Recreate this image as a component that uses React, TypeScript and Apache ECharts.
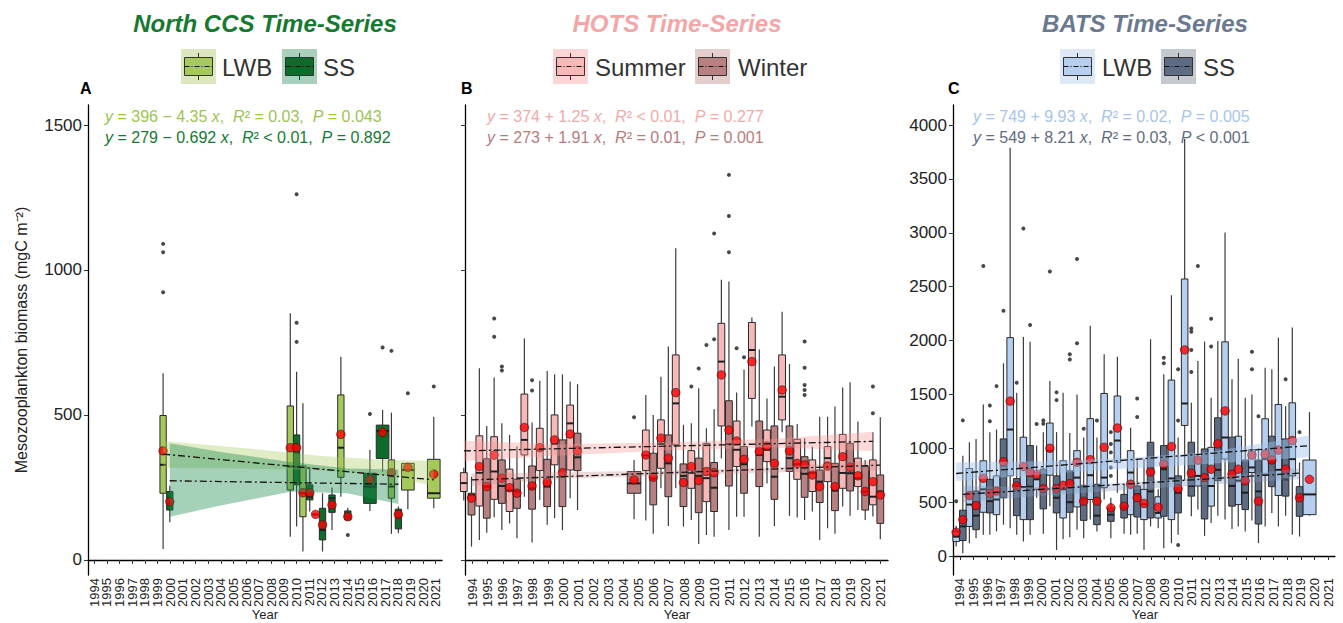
import React, { useEffect, useRef } from 'react';
import * as echarts from 'echarts';

// ---------------- DATA ----------------
const YEARS = ['1994','1995','1996','1997','1998','1999','2000','2001','2002','2003','2004','2005','2006','2007','2008','2009','2010','2011','2012','2013','2014','2015','2016','2017','2018','2019','2020','2021'];

// Panel A — North CCS. Box = [min, Q1, median, Q3, max]
const ccsLwbX = [1999.44, 2009.5, 2010.5, 2011.5, 2013.5, 2017.5, 2018.8, 2020.85];
const ccsLwbBox = [
  [38, 230, 328, 498, 644], [80, 241, 322, 531, 851], [29, 149, 230, 324, 540], [157, 157, 157, 157, 157],
  [218, 285, 387, 569, 701], [90, 213, 253, 345, 508], [175, 241, 310, 333, 335], [178, 213, 230, 347, 494],
];
const ccsLwbMean = [376, 387, 232, 157, 433, 301, 319, 296];
const ccsLwbOut = [[1090, 1061, 923], [], [], [], [], [721], [575], [598]];
const ccsSsX = [1999.97, 2010.0, 2011.04, 2012.05, 2012.8, 2014.05, 2015.8, 2016.8, 2018.05];
const ccsSsBox = [
  [130, 172, 195, 236, 255], [115, 259, 322, 431, 649], [167, 207, 218, 259, 320], [29, 69, 103, 178, 230],
  [103, 164, 213, 224, 250], [138, 138, 150, 169, 180], [169, 195, 253, 299, 379], [304, 350, 445, 465, 517],
  [92, 107, 149, 175, 184],
];
const ccsSsMean = [201, 387, 232, 121, 190, 149, 278, 440, 157];
const ccsSsOut = [[], [1261, 818, 752], [], [], [], [86], [503], [733], []];
const ccsLwbFitX = [1999.44, 2020.85];
const ccsLwbFitY = [365, 276];
const ccsSsFitX = [1999.97, 2018.05];
const ccsSsFitY = [273, 261];
const ccsLwbBandX = [1999.44, 2006, 2012, 2017, 2020.85];
const ccsLwbBandHi = [410, 385, 358, 345, 342];
const ccsLwbBandLo = [318, 315, 308, 292, 255];
const ccsSsBandX = [1999.97, 2004, 2009.5, 2014, 2018.05];
const ccsSsBandHi = [402, 372, 338, 315, 312];
const ccsSsBandLo = [149, 188, 235, 230, 193];

// Panel B — HOTS
const hotsSumX = [1993.42, 1994.45, 1995.43, 1996.45, 1997.43, 1998.45, 1999.43, 2000.46, 2005.47, 2006.47, 2007.45, 2008.48, 2009.48, 2010.47, 2011.48, 2012.49, 2013.49, 2014.49, 2015.49, 2016.49, 2017.5, 2018.5, 2019.51, 2020.5];
const hotsSumBox = [
  [205, 236, 265, 301, 318], [69, 186, 300, 428, 661], [147, 209, 305, 425, 629], [126, 167, 240, 313, 431],
  [218, 362, 414, 572, 764], [207, 308, 380, 454, 618], [144, 328, 400, 500, 640], [213, 310, 471, 534, 615],
  [136, 308, 360, 448, 569], [247, 316, 400, 483, 632], [247, 397, 540, 707, 1075], [138, 247, 300, 377, 471],
  [86, 201, 282, 402, 454], [350, 462, 684, 816, 966], [149, 322, 380, 479, 577], [460, 557, 724, 819, 836],
  [264, 339, 380, 448, 557], [440, 483, 563, 707, 856], [146, 278, 330, 416, 469], [167, 236, 300, 345, 391],
  [109, 270, 351, 391, 494], [184, 247, 300, 433, 595], [172, 253, 282, 351, 477], [150, 190, 218, 345, 440],
];
const hotsSumMean = [278, 322, 362, 249, 457, 387, 414, 434, 362, 420, 577, 322, 305, 638, 410, 684, 393, 586, 333, 293, 324, 356, 290, 270];
const hotsSumOut = [[563, 434, 111], [], [833, 770], [], [], [], [], [], [], [], [], [598], [741], [], [730], [], [], [], [], [], [], [], [], [598, 506]];
const hotsWinX = [1993.93, 1994.94, 1995.94, 1996.94, 1997.94, 1998.94, 1999.95, 2000.95, 2004.69, 2005.96, 2006.96, 2007.96, 2008.97, 2009.99, 2010.97, 2011.97, 2012.98, 2013.98, 2014.98, 2015.98, 2016.98, 2017.99, 2018.99, 2019.99, 2020.99];
const hotsWinBox = [
  [46, 155, 224, 230, 287], [94, 144, 253, 349, 462], [103, 195, 255, 345, 471], [75, 178, 236, 278, 391],
  [60, 175, 247, 324, 474], [121, 184, 253, 347, 652], [103, 184, 287, 414, 640], [172, 308, 354, 437, 606],
  [140, 230, 264, 305, 345], [90, 190, 280, 368, 500], [117, 218, 333, 431, 736], [115, 184, 290, 331, 466],
  [55, 163, 290, 351, 592], [80, 167, 249, 336, 520], [103, 255, 400, 549, 960], [149, 230, 330, 391, 657],
  [80, 253, 362, 479, 726], [117, 209, 287, 462, 667], [152, 305, 351, 462, 676], [138, 216, 297, 356, 420],
  [69, 198, 270, 310, 494], [90, 170, 239, 333, 529], [152, 238, 299, 402, 613], [138, 172, 236, 322, 345],
  [71, 126, 236, 293, 492],
];
const hotsWinMean = [213, 253, 282, 230, 255, 267, 301, 377, 276, 285, 351, 267, 274, 301, 448, 347, 374, 333, 376, 328, 253, 253, 320, 236, 224];
const hotsWinOut = [[], [], [667, 653], [], [620, 584], [], [], [], [492], [], [], [], [660], [761, 1126], [1328, 1186, 1061], [699], [], [], [], [753, 663, 603, 586, 569], [], [], [], [], []];
const hotsSumFitX = [1993.42, 2020.5];
const hotsSumFitY = [376, 409];
const hotsWinFitX = [1993.93, 2020.99];
const hotsWinFitY = [276, 327];
const hotsSumBandX = [1993.42, 2000, 2007, 2014, 2020.5];
const hotsSumBandHi = [411, 400, 405, 418, 442];
const hotsSumBandLo = [341, 360, 378, 388, 376];
const hotsWinBandX = [1993.93, 2000, 2007, 2014, 2020.99];
const hotsWinBandHi = [299, 302, 308, 320, 345];
const hotsWinBandLo = [255, 280, 292, 302, 308];

// Panel C — BATS
const batsLwbX = [1993.73, 1994.7, 1995.72, 1996.69, 1997.69, 1998.66, 1999.63, 2000.6, 2001.57, 2002.59, 2003.56, 2004.58, 2005.55, 2006.52, 2007.5, 2008.54, 2009.51, 2010.48, 2011.45, 2012.42, 2013.44, 2014.41, 2015.41, 2016.38, 2017.35, 2018.37, 2019.63];
const batsLwbBox = [
  [88, 134, 180, 230, 280], [119, 275, 478, 812, 1056], [197, 406, 619, 884, 1407], [228, 384, 525, 744, 1174],
  [259, 744, 1174, 2027, 3790], [134, 338, 640, 1103, 2033], [541, 619, 712, 775, 1025], [463, 750, 978, 1234, 1624],
  [156, 353, 620, 884, 1515], [244, 456, 728, 978, 1500], [338, 525, 750, 1275, 2137], [525, 634, 728, 1509, 1872],
  [588, 869, 1072, 1485, 1850], [197, 384, 775, 978, 1190], [56, 338, 480, 619, 900], [259, 353, 400, 550, 619],
  [119, 338, 720, 1633, 2420], [700, 1212, 1416, 2571, 3870], [431, 650, 744, 900, 1810], [306, 463, 650, 1009, 1469],
  [338, 900, 1100, 1988, 3003], [275, 478, 700, 1112, 1831], [330, 775, 822, 988, 1500], [275, 759, 900, 1274, 1748],
  [275, 562, 800, 1407, 2027], [197, 744, 900, 1422, 2121], [375, 384, 572, 891, 1336],
];
const batsLwbMean = [220, 562, 722, 603, 1438, 831, 759, 1000, 656, 869, 894, 1009, 1188, 666, 488, 453, 1016, 1913, 891, 806, 1347, 806, 938, 947, 984, 1072, 712];
const batsLwbOut = [[509], [], [2692], [1577], [], [3039], [1225], [2640], [], [2757, 1975], [], [], [], [], [], [], [], [], [2692], [2203, 1944], [], [], [1896, 1733], [], [], [], []];
const batsSsX = [1994.22, 1995.19, 1996.2, 1997.2, 1998.17, 1999.15, 2000.12, 2001.09, 2002.06, 2003.08, 2004.05, 2005.07, 2006.04, 2007.0, 2007.98, 2008.95, 2010.0, 2010.97, 2011.94, 2012.91, 2013.95, 2014.92, 2015.89, 2016.87, 2017.88, 2018.9];
const batsSsBox = [
  [25, 144, 275, 425, 931], [166, 244, 375, 603, 1087], [197, 400, 509, 712, 1150], [291, 541, 840, 1087, 1789],
  [197, 375, 650, 719, 1515], [197, 338, 644, 1025, 1989], [206, 438, 620, 806, 1150], [56, 400, 541, 744, 1150],
  [175, 406, 500, 791, 1143], [166, 331, 525, 656, 1100], [228, 291, 375, 666, 1100], [166, 322, 384, 447, 541],
  [206, 353, 447, 572, 666], [206, 363, 572, 650, 900], [275, 353, 600, 1056, 2012], [72, 369, 806, 1025, 1686],
  [197, 400, 588, 744, 1100], [369, 556, 650, 1056, 1422], [187, 344, 700, 994, 1990], [375, 700, 800, 1283, 1996],
  [250, 463, 650, 1103, 1640], [228, 431, 588, 891, 1469], [119, 297, 600, 891, 1000], [400, 644, 869, 1112, 1733],
  [375, 556, 712, 1087, 1391], [181, 369, 541, 644, 869],
];
const batsSsMean = [337, 469, 581, 875, 650, 775, 625, 625, 672, 509, 509, 447, 462, 541, 781, 853, 625, 769, 728, 1041, 759, 697, 509, 891, 806, 541];
const batsSsOut = [[1259], [], [1398, 1250], [2276], [1608], [2144], [1259, 1228], [1519, 1447], [1872, 1825], [1181], [1258], [1150, 1040, 962, 822, 744], [], [1463, 1291], [], [1840, 1789], [1733, 1258, 103], [2112, 2081, 1913, 1708], [], [], [], [], [1298], [], [1640], [1150]];
const batsLwbFitX = [1993.73, 2019.63];
const batsLwbFitY = [766, 1025];
const batsSsFitX = [1994.22, 2018.9];
const batsSsFitY = [572, 770];
const batsLwbBandX = [1993.73, 2000, 2006, 2012, 2019.63];
const batsLwbBandHi = [869, 880, 910, 960, 1119];
const batsLwbBandLo = [697, 760, 810, 855, 916];
const batsSsBandX = [1994.22, 2000, 2006, 2012, 2018.9];
const batsSsBandHi = [650, 640, 680, 730, 810];
const batsSsBandLo = [500, 560, 610, 660, 712];

const TICKS_AB = [0, 500, 1000, 1500];
const TICKS_C = [0, 500, 1000, 1500, 2000, 2500, 3000, 3500, 4000];

// ---------------- STYLE ----------------
const FONT = '"Liberation Sans", Arial, Helvetica, sans-serif';
// boxes drawn alone at a position are twice as wide (ggplot dodge)
const WIDE: Record<string, number[]> = {
  ccsLwb: [6, 7], ccsSs: [6, 7], hotsWin: [8], batsLwb: [26],
};

type Group = {
  key: string; x: number[]; box: number[][]; mean: number[]; out: number[][]; fill: string;
  fitX: number[]; fitY: number[]; bandX: number[]; bandHi: number[]; bandLo: number[]; band: string;
};

const panels = [
  {
    grid: { left: 88, top: 105, width: 354, height: 470 }, yMin: -52, yMax: 1569, ticks: TICKS_AB, labels: true, boxW: 0.5,
    groups: [
      { key: 'ccsLwb', x: ccsLwbX, box: ccsLwbBox, mean: ccsLwbMean, out: ccsLwbOut, fill: '#a5c95b', fitX: ccsLwbFitX, fitY: ccsLwbFitY, bandX: ccsLwbBandX, bandHi: ccsLwbBandHi, bandLo: ccsLwbBandLo, band: 'rgba(165,200,90,0.35)' },
      { key: 'ccsSs', x: ccsSsX, box: ccsSsBox, mean: ccsSsMean, out: ccsSsOut, fill: '#0f6b2c', fitX: ccsSsFitX, fitY: ccsSsFitY, bandX: ccsSsBandX, bandHi: ccsSsBandHi, bandLo: ccsSsBandLo, band: 'rgba(30,140,80,0.4)' },
    ] as Group[],
  },
  {
    grid: { left: 465, top: 105, width: 423, height: 470 }, yMin: -52, yMax: 1569, ticks: TICKS_AB, labels: false, boxW: 0.45,
    groups: [
      { key: 'hotsSum', x: hotsSumX, box: hotsSumBox, mean: hotsSumMean, out: hotsSumOut, fill: '#f8b8b8', fitX: hotsSumFitX, fitY: hotsSumFitY, bandX: hotsSumBandX, bandHi: hotsSumBandHi, bandLo: hotsSumBandLo, band: 'rgba(245,150,150,0.35)' },
      { key: 'hotsWin', x: hotsWinX, box: hotsWinBox, mean: hotsWinMean, out: hotsWinOut, fill: '#b88080', fitX: hotsWinFitX, fitY: hotsWinFitY, bandX: hotsWinBandX, bandHi: hotsWinBandHi, bandLo: hotsWinBandLo, band: 'rgba(200,130,130,0.3)' },
    ] as Group[],
  },
  {
    grid: { left: 953, top: 105, width: 382, height: 470 }, yMin: -176, yMax: 4186, ticks: TICKS_C, labels: true, boxW: 0.48,
    groups: [
      { key: 'batsLwb', x: batsLwbX, box: batsLwbBox, mean: batsLwbMean, out: batsLwbOut, fill: '#b6cfef', fitX: batsLwbFitX, fitY: batsLwbFitY, bandX: batsLwbBandX, bandHi: batsLwbBandHi, bandLo: batsLwbBandLo, band: 'rgba(160,195,235,0.45)' },
      { key: 'batsSs', x: batsSsX, box: batsSsBox, mean: batsSsMean, out: batsSsOut, fill: '#5e6c83', fitX: batsSsFitX, fitY: batsSsFitY, bandX: batsSsBandX, bandHi: batsSsBandHi, bandLo: batsSsBandLo, band: 'rgba(130,155,190,0.35)' },
    ] as Group[],
  },
];

function buildOption() {
  const grid: any[] = [];
  const xAxis: any[] = [];
  const yAxis: any[] = [];
  const series: any[] = [];
  panels.forEach((p, gi) => {
    grid.push({ ...p.grid, containLabel: false });
    xAxis.push({
      type: 'category', gridIndex: gi, data: YEARS, boundaryGap: true,
      axisLine: { show: true, lineStyle: { color: '#000', width: 1.3 } },
      axisTick: { show: true, alignWithLabel: true, length: 4, lineStyle: { color: '#333' } },
      axisLabel: { rotate: 90, interval: 0, fontSize: 13, color: '#222', margin: 3, fontFamily: FONT },
      splitLine: { show: false },
    });
    xAxis.push({ type: 'value', gridIndex: gi, min: 1993.5, max: 2021.5, show: false, splitLine: { show: false } });
    yAxis.push({
      type: 'value', gridIndex: gi, min: p.yMin, max: p.yMax,
      axisLine: { show: true, lineStyle: { color: '#000', width: 1.3 } },
      axisTick: { show: true, length: 4, customValues: p.ticks, lineStyle: { color: '#333' } },
      axisLabel: { show: p.labels, customValues: p.ticks, formatter: (v: number) => String(v), fontSize: 17, color: '#222', margin: 6, fontFamily: FONT },
      splitLine: { show: false },
    });
    const xi = gi * 2 + 1;
    p.groups.forEach((g) => {
      const wide = WIDE[g.key] || [];
      series.push({
        type: 'custom', xAxisIndex: xi, yAxisIndex: gi, z: 2, silent: true,
        data: g.x.map((x, k) => [x, ...g.box[k], k]),
        renderItem: (params: any, api: any) => {
          const x = api.value(0);
          const k = api.value(6);
          const hw = (p.boxW / 2) * (wide.includes(k) ? 2 : 1);
          const lo = api.coord([x, api.value(1)]);
          const q1 = api.coord([x - hw, api.value(2)]);
          const md = api.coord([x, api.value(3)]);
          const q3 = api.coord([x + hw, api.value(4)]);
          const hi = api.coord([x, api.value(5)]);
          const left = q1[0], right = q3[0], top = q3[1], bottom = q1[1];
          const wStyle = { stroke: '#3c3c3c', lineWidth: 1.2 };
          return {
            type: 'group',
            children: [
              { type: 'line', shape: { x1: lo[0], y1: lo[1], x2: lo[0], y2: bottom }, style: wStyle },
              { type: 'line', shape: { x1: hi[0], y1: hi[1], x2: hi[0], y2: top }, style: wStyle },
              { type: 'rect', shape: { x: left, y: top, width: right - left, height: Math.max(bottom - top, 0.6) }, style: { fill: g.fill, stroke: '#2a2a2a', lineWidth: 1 } },
              { type: 'line', shape: { x1: left, y1: md[1], x2: right, y2: md[1] }, style: { stroke: '#1e1e1e', lineWidth: 2 } },
            ],
          };
        },
      });
      series.push({
        type: 'scatter', xAxisIndex: xi, yAxisIndex: gi, z: 3, silent: true,
        symbol: 'circle', symbolSize: 4,
        itemStyle: { color: '#1a1a1a' },
        data: g.x.flatMap((x, k) => g.out[k].map((v) => [x, v])),
      });
      series.push({
        type: 'scatter', xAxisIndex: xi, yAxisIndex: gi, z: 3, silent: true,
        symbol: 'circle', symbolSize: 8.5,
        itemStyle: { color: '#ff0000', borderColor: '#3a1010', borderWidth: 0.8 },
        data: g.x.map((x, k) => [x, g.mean[k]]),
      });
    });
    p.groups.forEach((g) => {
      series.push({
        type: 'custom', xAxisIndex: xi, yAxisIndex: gi, z: 4, silent: true,
        data: g.bandX.map((x, k) => [x, g.bandLo[k], g.bandHi[k]]),
        renderItem: (params: any, api: any) => {
          if (params.dataIndex !== 0) return { type: 'group', children: [] };
          const upper = g.bandX.map((x, k) => api.coord([x, g.bandHi[k]]));
          const lower = g.bandX.map((x, k) => api.coord([x, g.bandLo[k]])).reverse();
          return { type: 'polygon', shape: { points: upper.concat(lower) }, style: { fill: g.band } };
        },
      });
    });
    p.groups.forEach((g) => {
      series.push({
        type: 'line', xAxisIndex: xi, yAxisIndex: gi, z: 5, silent: true,
        symbol: 'none',
        lineStyle: { color: '#111', width: 1.3, type: [7, 3, 2, 3] },
        data: g.fitX.map((x, k) => [x, g.fitY[k]]),
      });
    });
  });

  const legendKey = (x: number, y: number, bg: string, fill: string) => ({
    type: 'group', x, y,
    children: [
      { type: 'rect', shape: { x: 0, y: 0, width: 35, height: 35 }, style: { fill: bg } },
      { type: 'line', shape: { x1: 17.5, y1: 4, x2: 17.5, y2: 31 }, style: { stroke: '#333', lineWidth: 1 } },
      { type: 'rect', shape: { x: 3.5, y: 8.5, width: 28, height: 18 }, style: { fill, stroke: '#333', lineWidth: 1 } },
      { type: 'line', shape: { x1: 3.5, y1: 17.5, x2: 31.5, y2: 17.5 }, style: { stroke: '#111', lineWidth: 1, lineDash: [5, 2, 1, 2] } },
    ],
  });
  const txt = (x: number, y: number, text: string, fontSize: number, fill: string, extra: any = {}) => ({
    type: 'text', x, y,
    style: { text, fontSize, fill, fontFamily: FONT, verticalAlign: 'middle', ...extra },
  });
  const eq = (x: number, y: number, text: string, fill: string) => ({
    type: 'text', x, y,
    style: {
      text, fill, fontSize: 16, fontFamily: FONT, verticalAlign: 'middle',
      rich: { i: { fontStyle: 'italic', fill, fontSize: 16, fontFamily: FONT } },
    },
  });

  const graphic: any[] = [
    txt(265, 23, 'North CCS Time-Series', 24, '#157a30', { align: 'center', fontWeight: 'bold', fontStyle: 'italic' }),
    txt(677, 23, 'HOTS Time-Series', 24, '#f4a6a6', { align: 'center', fontWeight: 'bold', fontStyle: 'italic' }),
    txt(1145, 23, 'BATS Time-Series', 24, '#6b7990', { align: 'center', fontWeight: 'bold', fontStyle: 'italic' }),
    legendKey(181, 49, '#dce7c0', '#a5c95b'),
    txt(222, 67, 'LWB', 24, '#333'),
    legendKey(282, 49, '#a9d0bc', '#0f6b2c'),
    txt(323, 67, 'SS', 24, '#333'),
    legendKey(553, 49, '#fcd6d6', '#f8b8b8'),
    txt(595, 67, 'Summer', 24, '#333'),
    legendKey(695, 49, '#e5cdcd', '#b88080'),
    txt(738, 67, 'Winter', 24, '#333'),
    legendKey(1060, 49, '#dde8f6', '#b6cfef'),
    txt(1102, 67, 'LWB', 24, '#333'),
    legendKey(1161, 49, '#c4c8cf', '#5e6c83'),
    txt(1203, 67, 'SS', 24, '#333'),
    txt(80, 88, 'A', 16, '#000', { fontWeight: 'bold' }),
    txt(461, 88, 'B', 16, '#000', { fontWeight: 'bold' }),
    txt(948, 88, 'C', 16, '#000', { fontWeight: 'bold' }),
    eq(105, 116, '{i|y} = 396 − 4.35 {i|x},  {i|R}² = 0.03,  {i|P} = 0.043', '#9dc450'),
    eq(105, 137, '{i|y} = 279 − 0.692 {i|x},  {i|R}² < 0.01,  {i|P} = 0.892', '#137a34'),
    eq(487, 116, '{i|y} = 374 + 1.25 {i|x},  {i|R}² < 0.01,  {i|P} = 0.277', '#f4a9a9'),
    eq(487, 137, '{i|y} = 273 + 1.91 {i|x},  {i|R}² = 0.01,  {i|P} = 0.001', '#b87c7c'),
    eq(973, 116, '{i|y} = 749 + 9.93 {i|x},  {i|R}² = 0.02,  {i|P} = 0.005', '#a8c4ea'),
    eq(973, 137, '{i|y} = 549 + 8.21 {i|x},  {i|R}² = 0.03,  {i|P} < 0.001', '#5f6d84'),
    txt(265, 614, 'Year', 13, '#222', { align: 'center' }),
    txt(677, 614, 'Year', 13, '#222', { align: 'center' }),
    txt(1145, 614, 'Year', 13, '#222', { align: 'center' }),
    { type: 'text', x: 21, y: 340, rotation: Math.PI / 2,
      style: { text: 'Mesozooplankton biomass (mgC m⁻²)', fontSize: 16, fill: '#222', fontFamily: FONT, align: 'center', verticalAlign: 'middle' } },
  ];

  return { animation: false, backgroundColor: '#fff', grid, xAxis, yAxis, series, graphic };
}

export default function App() {
  const ref = useRef<HTMLDivElement>(null);
  useEffect(() => {
    if (!ref.current) return;
    const chart = echarts.init(ref.current, undefined, { renderer: 'svg' });
    chart.setOption(buildOption() as any);
    return () => chart.dispose();
  }, []);
  return <div ref={ref} style={{ position: 'fixed', left: 0, top: 0, width: 1343, height: 623, background: '#fff' }} />;
}
